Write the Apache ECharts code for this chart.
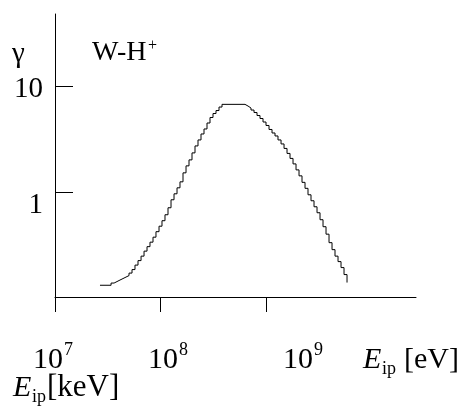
<!DOCTYPE html>
<html>
<head>
<meta charset="utf-8">
<script src="https://cdn.jsdelivr.net/npm/echarts@6/dist/echarts.min.js"></script>
<style>
html,body{margin:0;padding:0;background:#fff;}
#chart{width:466px;height:408px;}
</style>
</head>
<body>
<div id="chart"></div>
<script>
// Ion-pair energy E_ip [eV] (x) and gamma (y)
var energies = [
  2.67e7, 3.40e7, 3.63e7, 3.87e7, 4.13e7, 4.41e7, 4.71e7, 5.03e7, 5.37e7, 5.73e7,
  6.12e7, 6.54e7, 6.98e7, 7.45e7, 7.95e7, 8.49e7, 9.06e7, 9.68e7, 1.033e8, 1.103e8,
  1.178e8, 1.258e8, 1.343e8, 1.434e8, 1.530e8, 1.634e8, 1.745e8, 1.863e8, 1.989e8, 2.123e8,
  2.267e8, 2.420e8, 2.584e8, 2.759e8, 2.946e8, 3.145e8, 3.358e8, 3.585e8, 3.828e8,
  5.922e8,
  6.323e8, 6.752e8, 7.208e8, 7.697e8, 8.218e8, 8.773e8, 9.368e8, 1.000e9, 1.068e9, 1.140e9,
  1.217e9, 1.299e9, 1.388e9, 1.482e9, 1.582e9, 1.689e9, 1.803e9, 1.925e9, 2.055e9, 2.194e9,
  2.343e9, 2.501e9, 2.670e9, 2.851e9, 3.044e9, 3.250e9, 3.470e9, 3.705e9, 3.956e9, 4.223e9,
  4.508e9, 4.815e9, 5.140e9, 5.488e9, 5.860e9
];
var gammas = [
  0.1293, 0.1357, 0.1402, 0.1449, 0.1497, 0.1547, 0.1598, 0.1688, 0.1823, 0.2010,
  0.2218, 0.2446, 0.2729, 0.3011, 0.3321, 0.3704, 0.4177, 0.4710, 0.5311, 0.6053,
  0.7053, 0.8398, 0.9573, 1.091, 1.244, 1.514, 1.764, 2.011, 2.343, 2.729,
  3.111, 3.546, 3.956, 4.508, 5.084, 5.548, 5.923, 6.393, 6.782,
  6.782,
  6.535, 6.256, 5.988, 5.670, 5.311, 4.975, 4.608, 4.270, 3.913, 3.624,
  3.395, 3.111, 2.851, 2.584, 2.317, 2.077, 1.842, 1.616, 1.418, 1.230,
  1.079, 0.9367, 0.8219, 0.7207, 0.6323, 0.5428, 0.4658, 0.3956, 0.3285, 0.2819,
  0.2446, 0.2170, 0.1904, 0.1634, 0.1372
];
var xTickValues = [1e7, 1e8, 1e9];
var xTickExponents = ['7', '8', '9'];
var yTickValues = [1, 10];
var yTickLabels = ['1', '10'];
var seriesLabel = 'W-H';
var seriesSup = '+';
var yName = 'γ';

var FONT = '"Liberation Serif", "Times New Roman", serif';
var seriesData = energies.map(function (e, i) { return [e, gammas[i]]; });

function txt(x, y, s, size, align, italic) {
  return {
    type: 'text', x: x, y: y, silent: true,
    style: {
      text: s, fontFamily: FONT, fontSize: size, fill: '#000',
      fontStyle: italic ? 'italic' : 'normal',
      align: align || 'left', verticalAlign: 'middle'
    }
  };
}

var graphics = [];
// y name and series label
graphics.push(txt(12, 54, yName, 29));
graphics.push(txt(92, 53, seriesLabel, 28));
graphics.push(txt(148, 46, seriesSup, 16));
// y tick labels
graphics.push(txt(43, 205, yTickLabels[0], 29, 'right'));
graphics.push(txt(43, 89, yTickLabels[1], 29, 'right'));
// x tick labels (10^n)
var xBaseLeft = [33, 148, 283];
xTickExponents.forEach(function (ex, i) {
  graphics.push(txt(xBaseLeft[i], 360, '10', 30));
  graphics.push(txt(xBaseLeft[i] + 31, 350, ex, 18));
});
// E_ip [eV]
graphics.push(txt(363, 360, 'E', 30, 'left', true));
graphics.push(txt(382, 369, 'ip', 18));
graphics.push(txt(404, 360, '[eV]', 30));
// E_ip[keV]
graphics.push(txt(13, 388, 'E', 30, 'left', true));
graphics.push(txt(32, 397, 'ip', 18));
graphics.push(txt(47, 388, '[keV]', 31));

var chart = echarts.init(document.getElementById('chart'), null, {renderer: 'canvas'});
chart.setOption({
  animation: false,
  backgroundColor: '#fff',
  grid: {left: 55, right: 50, top: 14, bottom: 111, containLabel: false},
  xAxis: {
    type: 'log', logBase: 10, min: 1e7, max: 2.64e10,
    axisLine: {show: true, onZero: false, lineStyle: {color: '#000', width: 1}},
    axisTick: {show: true, inside: false, length: 15, customValues: xTickValues, lineStyle: {color: '#000', width: 1}},
    axisLabel: {show: false},
    splitLine: {show: false},
    minorTick: {show: false}
  },
  yAxis: {
    type: 'log', logBase: 10, min: 0.1, max: 49,
    axisLine: {show: true, onZero: false, lineStyle: {color: '#000', width: 1}},
    axisTick: {show: true, inside: true, length: 18, customValues: yTickValues, lineStyle: {color: '#000', width: 1}},
    axisLabel: {show: false},
    splitLine: {show: false}
  },
  series: [{
    type: 'line', step: 'end', data: seriesData, showSymbol: false, symbol: 'none',
    lineStyle: {color: '#000', width: 1}, clip: true
  }],
  graphic: graphics
});
</script>
</body>
</html>
